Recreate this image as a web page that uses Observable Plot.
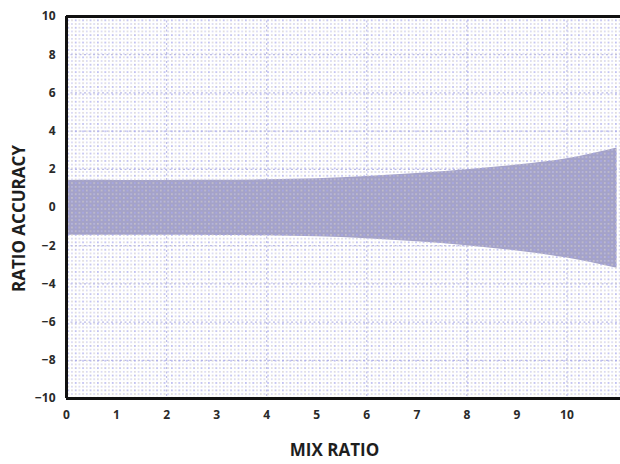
<!DOCTYPE html>
<html>
<head>
<meta charset="utf-8">
<script src="https://cdn.jsdelivr.net/npm/d3@7"></script>
<script src="https://cdn.jsdelivr.net/npm/@observablehq/plot@0.6"></script>
<style>
  html, body { margin: 0; padding: 0; background: #fff; }
  #chart svg { display: block; }
</style>
</head>
<body>
<div id="chart"></div>
<script>
// Data
const mixRatio = [0, 1, 2, 3, 4, 5, 6, 7, 8, 9, 10, 11];
const upperAccuracy = [1.42, 1.42, 1.42, 1.43, 1.45, 1.5, 1.62, 1.78, 1.98, 2.22, 2.55, 3.12];
const lowerAccuracy = [-1.45, -1.45, -1.45, -1.46, -1.48, -1.53, -1.63, -1.79, -2.0, -2.28, -2.65, -3.18];
const xTicks = [0, 1, 2, 3, 4, 5, 6, 7, 8, 9, 10];
const yTicks = [-10, -8, -6, -4, -2, 0, 2, 4, 6, 8, 10];
const xGrid = [2, 4, 6, 8, 10];
const yGrid = [-8, -6, -4, -2, 2, 4, 6, 8];

const band = mixRatio.map((x, i) => ({x, hi: upperAccuracy[i], lo: lowerAccuracy[i]}));

const fontFamily = "'Open Sans', 'DejaVu Sans', sans-serif";

const chart = Plot.plot({
  width: 620,
  height: 464,
  marginLeft: 66,
  marginRight: 0,
  marginTop: 16,
  marginBottom: 66,
  style: {fontFamily, background: "#fff"},
  x: {domain: [0, 11.07], axis: null},
  y: {domain: [-10, 10], axis: null},
  marks: [
    Plot.frame({fill: "#fff", stroke: "none"}),
    Plot.ruleX(xGrid, {stroke: "#bcbce6", strokeWidth: 1.2, strokeDasharray: "2,2.5"}),
    Plot.ruleY(yGrid, {stroke: "#bcbce6", strokeWidth: 1.2, strokeDasharray: "2,2.5"}),
    Plot.areaY(band, {x: "x", y1: "lo", y2: "hi", fill: "#a4a2c8", curve: "natural"}),
    Plot.frame({fill: "url(#dotpat)", stroke: "none"}),
    Plot.ruleX([0], {stroke: "#111", strokeWidth: 3}),
    Plot.ruleY([10, -10], {stroke: "#111", strokeWidth: 3}),
    Plot.axisY(yTicks, {label: null, tickSize: 0, tickPadding: 11, fontSize: 12, fontWeight: "bold", fill: "#2a2a2a"}),
    Plot.axisX(xTicks, {label: null, tickSize: 0, tickPadding: 12, fontSize: 12, fontWeight: "bold", fill: "#2a2a2a"}),
    Plot.text(["RATIO ACCURACY"], {frameAnchor: "left", textAnchor: "middle", dx: -47, dy: 11, rotate: -90, fontSize: 17, fontWeight: "bold", fill: "#1e1e1e"}),
    Plot.text(["MIX RATIO"], {frameAnchor: "bottom", dy: 57, dx: -9, fontSize: 17, fontWeight: "bold", fill: "#1e1e1e"})
  ]
});

// dotted background pattern (pure styling)
const ns = "http://www.w3.org/2000/svg";
const defs = document.createElementNS(ns, "defs");
const pat = document.createElementNS(ns, "pattern");
pat.setAttribute("id", "dotpat");
pat.setAttribute("patternUnits", "userSpaceOnUse");
pat.setAttribute("width", "7.4");
pat.setAttribute("height", "7.4");
pat.setAttribute("x", "66");
pat.setAttribute("y", "18");
const dots = [[1.8, 1.8, "#aaaaee", 0.95], [5.5, 1.8, "#cfcaca", 0.85], [1.8, 5.5, "#cfcaca", 0.85], [5.5, 5.5, "#c0c0ee", 0.8]];
for (const [cx, cy, c, r] of dots) {
  const e = document.createElementNS(ns, "circle");
  e.setAttribute("cx", cx); e.setAttribute("cy", cy); e.setAttribute("r", r);
  e.setAttribute("fill", c); e.setAttribute("fill-opacity", "0.9");
  pat.appendChild(e);
}
defs.appendChild(pat);
chart.insertBefore(defs, chart.firstChild);

document.getElementById("chart").appendChild(chart);
</script>
</body>
</html>
